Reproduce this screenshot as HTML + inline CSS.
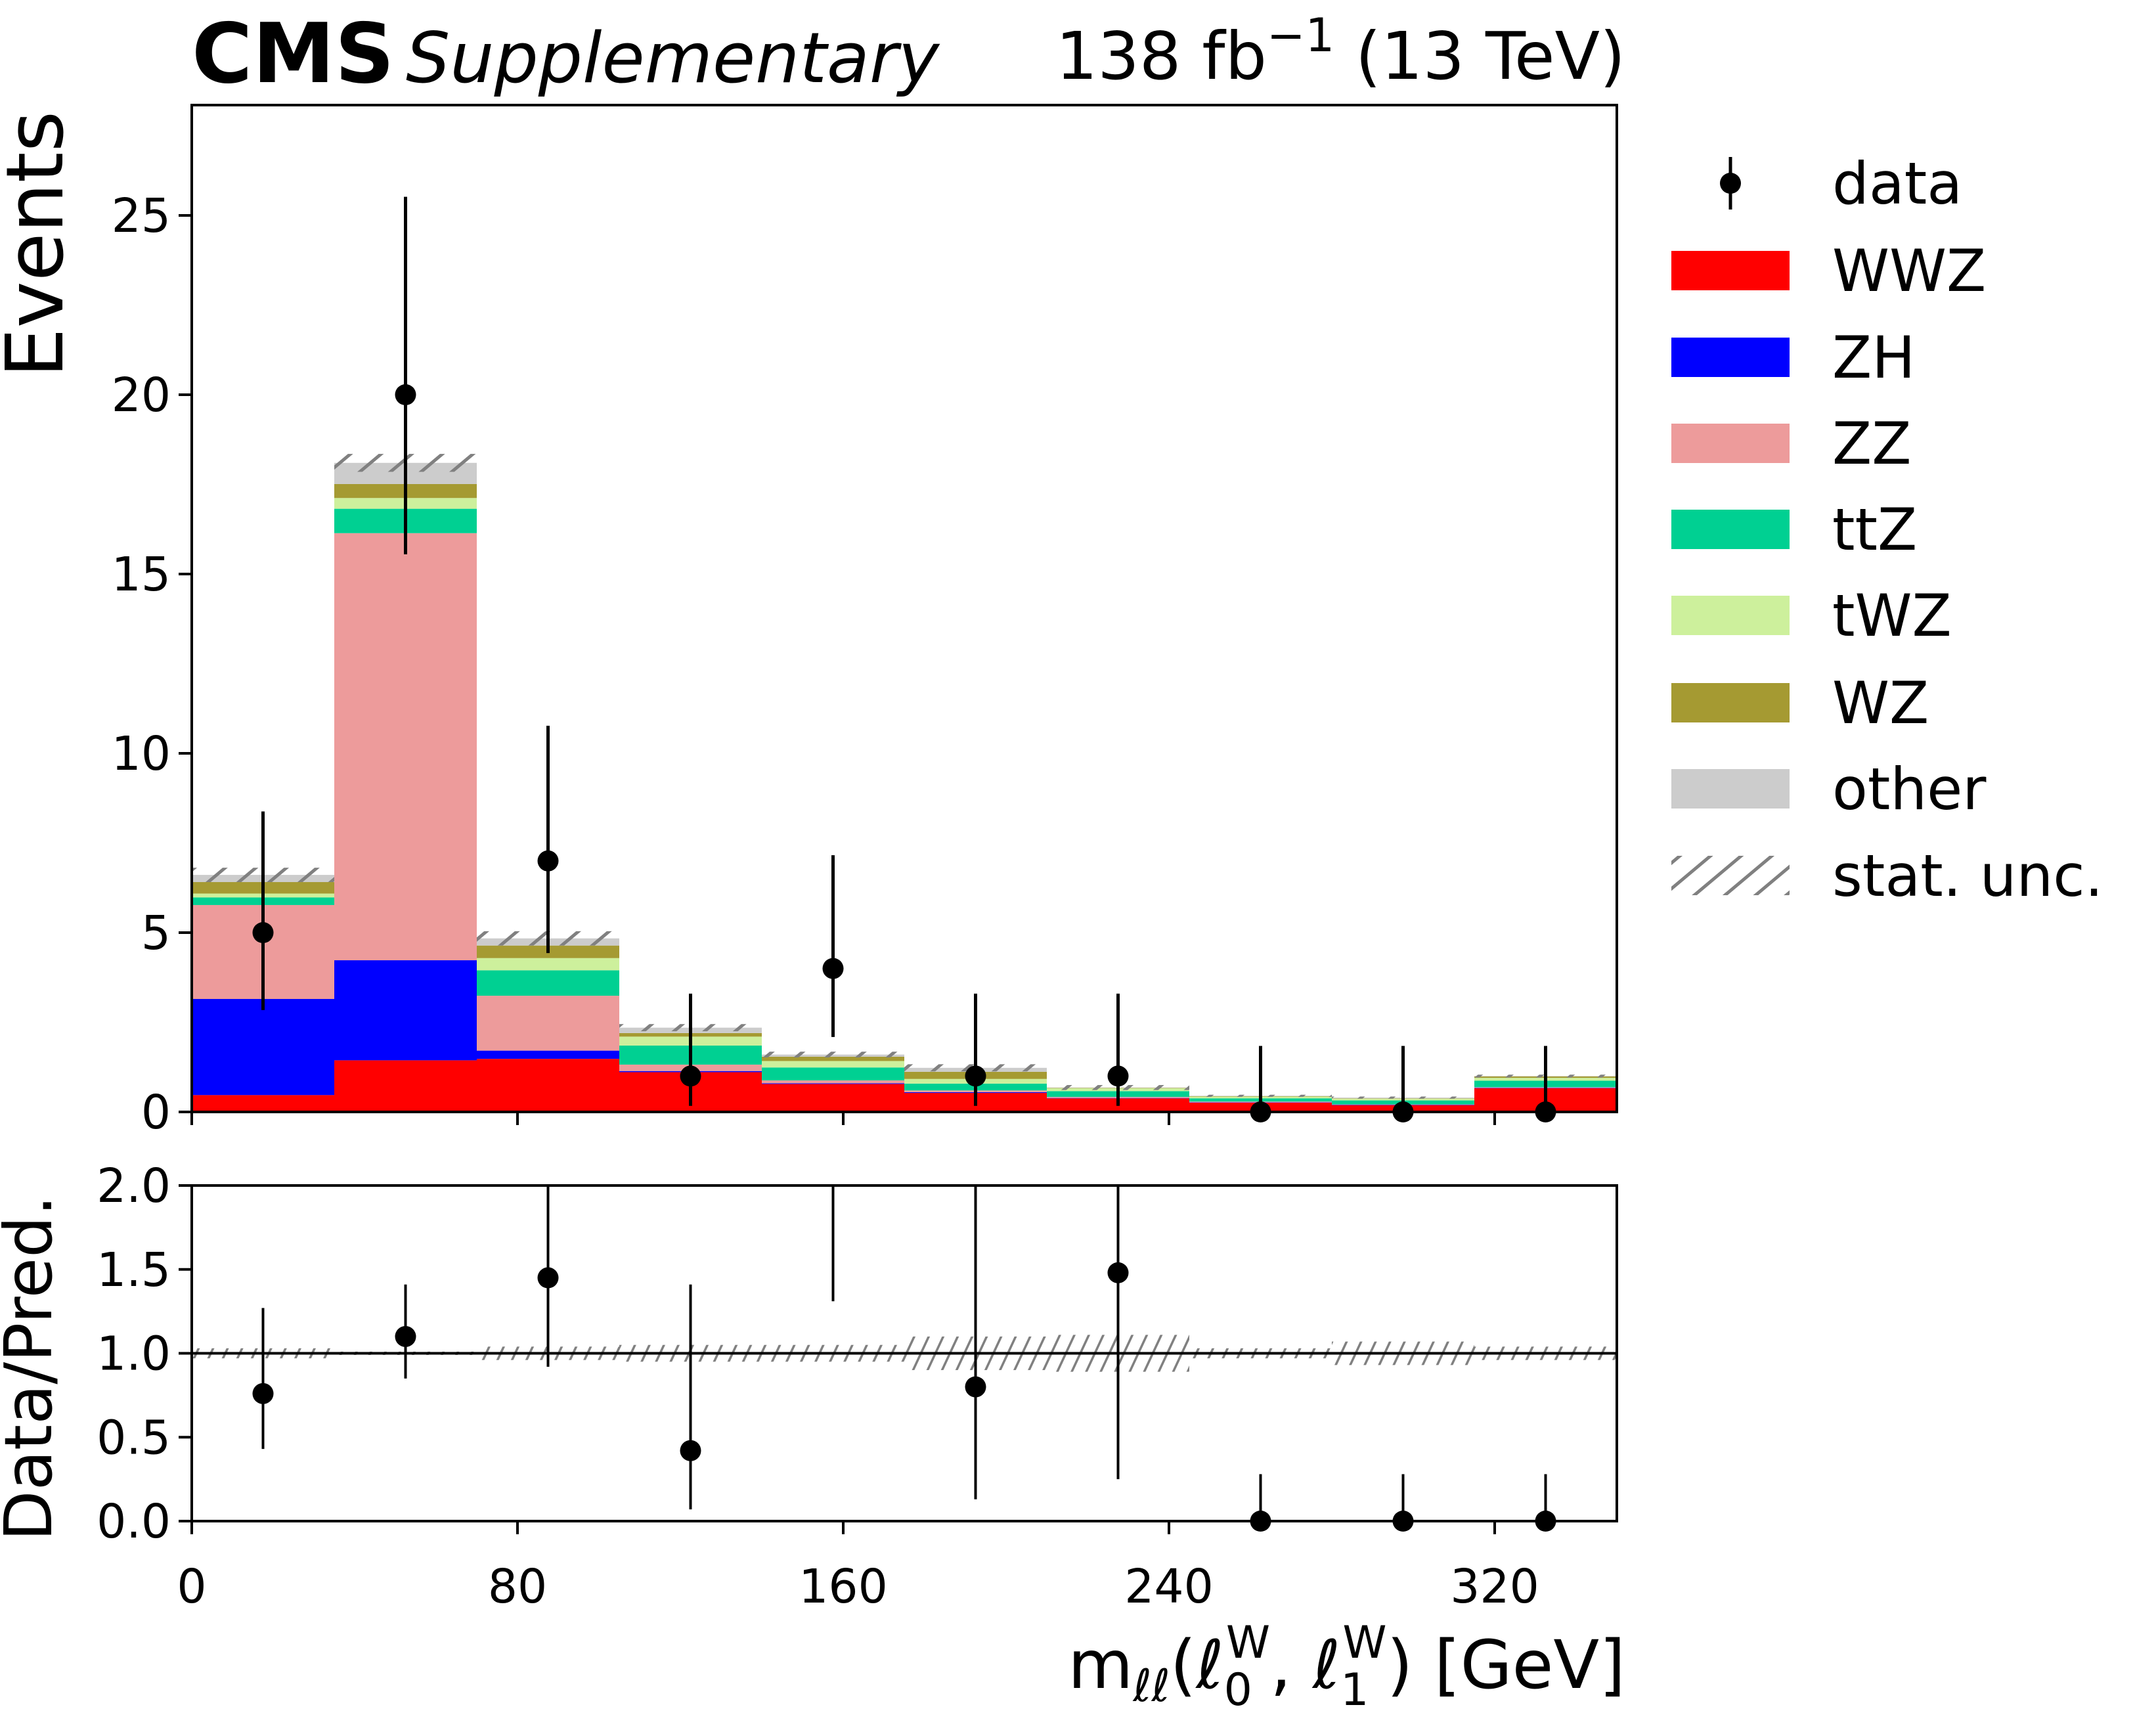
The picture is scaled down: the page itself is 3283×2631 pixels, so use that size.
<!DOCTYPE html>
<html><head><meta charset="utf-8"><style>
html,body{margin:0;padding:0;background:#fff}
svg text{font-family:"DejaVu Sans","Liberation Sans",sans-serif}
</style></head><body>
<svg id="c" width="3283" height="2626" viewBox="0 0 3283 2626" xmlns="http://www.w3.org/2000/svg">
<defs>
<pattern id="h1" width="30" height="30" patternUnits="userSpaceOnUse" patternTransform="rotate(50)"><rect width="30" height="30" fill="none"/><line x1="0" y1="0" x2="0" y2="30" stroke="#808080" stroke-width="10"/></pattern>
<pattern id="h2" width="20" height="20" patternUnits="userSpaceOnUse" patternTransform="rotate(25)"><line x1="0" y1="0" x2="0" y2="20" stroke="#808080" stroke-width="7"/></pattern>
</defs>
<g id="main"></g>
<g id="ratio"></g>
<text x="292" y="125" font-size="126" font-weight="bold">CMS</text>
<text x="618" y="125" font-size="106" font-style="italic">Supplementary</text>
<text x="2475" y="120" font-size="100" text-anchor="end">138 fb<tspan dy="-42" font-size="70">−1</tspan><tspan dy="42"> (13 TeV)</tspan></text>
<text transform="translate(95,372) rotate(-90)" font-size="120" text-anchor="middle">Events</text>
<text transform="translate(78,2083) rotate(-90)" font-size="100" text-anchor="middle">Data/Pred.</text>
<text x="2475" y="2570" font-size="102" text-anchor="end">m<tspan font-size="68" dy="20">ℓℓ</tspan><tspan dy="-20">(ℓ</tspan><tspan font-size="68" dy="26">0</tspan><tspan font-size="68" dx="-40" dy="-72">W</tspan><tspan dy="46">, ℓ</tspan><tspan font-size="68" dy="26">1</tspan><tspan font-size="68" dx="-40" dy="-72">W</tspan><tspan dy="46">) [GeV]</tspan></text>
<g id="legend"></g>
</svg>
<script>
const edges=[0,35,70,105,140,175,210,245,280,315,350];
const procs=["WWZ","ZH","ZZ","ttZ","tWZ","WZ","other"];
const colors=["#ff0000","#0000ff","#ed9b9b","#00d092","#cdf09c","#a59a32","#cccccc"];
const cumWWZ=[0.47,1.44,1.48,1.11,0.78,0.53,0.38,0.26,0.19,0.66];
const cumZH=[3.15,4.23,1.71,1.14,0.80,0.55,0.39,0.27,0.20,0.67];
const cumZZ=[5.77,16.14,3.24,1.32,0.88,0.60,0.42,0.29,0.21,0.69];
const cumttZ=[5.98,16.82,3.95,1.85,1.24,0.79,0.58,0.38,0.32,0.87];
const cumtWZ=[6.09,17.12,4.29,2.10,1.42,0.92,0.66,0.43,0.37,0.95];
const cumWZ=[6.41,17.51,4.64,2.20,1.54,1.12,0.67,0.44,0.38,0.99];
const cumOther=[6.61,18.10,4.84,2.35,1.60,1.23,0.68,0.45,0.40,1.00];
const statUnc=[0.2,0.25,0.2,0.1,0.08,0.1,0.07,0.03,0.03,0.04];
const dataVals=[5,20,7,1,4,1,1,0,0,0];
const dataLo=[2.84,15.55,4.43,0.17,2.09,0.17,0.17,0,0,0];
const dataHi=[8.38,25.52,10.77,3.30,7.16,3.30,3.30,1.84,1.84,1.84];
const ratioVals=[0.76,1.10,1.45,0.42,2.5,0.80,1.48,0,0,0];
const ratioLo=[0.43,0.85,0.92,0.07,1.31,0.13,0.25,0,0,0];
const ratioHi=[1.27,1.41,2.22,1.41,4.5,2.7,4.8,0.28,0.28,0.28];
const ratioUnc=[0.03,0.01,0.04,0.05,0.05,0.1,0.11,0.03,0.07,0.04];
const yTicks=[0,5,10,15,20,25];
const rTicks=[0,0.5,1,1.5,2];
const xTicks=[0,80,160,240,320];

const NS="http://www.w3.org/2000/svg";
const L=292,R=2462;
const X=v=>L+(R-L)*v/350;
const MY0=1693,MTOP=160,Y=v=>MY0-v*54.6;
const RY0=2316,RTOP=1805,RY=v=>RY0-(RY0-RTOP)*v/2;
function mk(p,t,a){const e=document.createElementNS(NS,t);for(const k in a)e.setAttribute(k,a[k]);p.appendChild(e);return e;}
const main=document.getElementById('main'),ratio=document.getElementById('ratio');
const cums=[cumWWZ,cumZH,cumZZ,cumttZ,cumtWZ,cumWZ,cumOther];
for(let i=0;i<10;i++){
  let prev=0;
  for(let p=0;p<7;p++){
    const top=cums[p][i];
    const r=mk(main,'rect',{x:X(edges[i]),y:Y(top),width:X(edges[i+1])-X(edges[i]),height:Math.max(0,Y(prev)-Y(top)),fill:colors[p]});
    
    
    prev=top;
  }
  const h=mk(main,'rect',{x:X(edges[i]),y:Y(cumOther[i]+statUnc[i]),width:X(edges[i+1])-X(edges[i]),height:Y(cumOther[i]-statUnc[i])-Y(cumOther[i]+statUnc[i]),fill:'url(#h1)'});
  
  
  const rh=mk(ratio,'rect',{x:X(edges[i]),y:RY(1+ratioUnc[i]),width:X(edges[i+1])-X(edges[i]),height:RY(1-ratioUnc[i])-RY(1+ratioUnc[i]),fill:'url(#h2)'});
  
  
}
mk(ratio,'line',{x1:L,x2:R,y1:RY(1),y2:RY(1),stroke:'#000','stroke-width':4});
const cp=mk(document.querySelector('defs'),'clipPath',{id:'rc'});mk(cp,'rect',{x:L-30,y:RTOP,width:R-L+60,height:RY0-RTOP+30});
const rpts=mk(ratio,'g',{'clip-path':'url(#rc)'});
for(let i=0;i<10;i++){
  const cx=X((edges[i]+edges[i+1])/2);
  const g=mk(main,'g',{});
  
  
  mk(g,'line',{x1:cx,x2:cx,y1:Y(dataLo[i]),y2:Y(dataHi[i]),stroke:'#000','stroke-width':5});
  mk(g,'circle',{cx:cx,cy:Y(dataVals[i]),r:16,fill:'#000'});
  const rg=mk(rpts,'g',{});
  
  
  mk(rg,'line',{x1:cx,x2:cx,y1:RY(ratioLo[i]),y2:RY(ratioHi[i]),stroke:'#000','stroke-width':4});
  mk(rg,'circle',{cx:cx,cy:RY(ratioVals[i]),r:16,fill:'#000'});
}
mk(main,'rect',{x:L,y:MTOP,width:R-L,height:MY0-MTOP,fill:'none',stroke:'#000','stroke-width':4});
mk(ratio,'rect',{x:L,y:RTOP,width:R-L,height:RY0-RTOP,fill:'none',stroke:'#000','stroke-width':4});
yTicks.forEach(v=>{mk(main,'line',{x1:L-20,x2:L,y1:Y(v),y2:Y(v),stroke:'#000','stroke-width':4});
  const t=mk(main,'text',{x:L-32,y:Y(v)+25,'font-size':71,'text-anchor':'end'});t.textContent=v;
  
  });
rTicks.forEach(v=>{mk(ratio,'line',{x1:L-20,x2:L,y1:RY(v),y2:RY(v),stroke:'#000','stroke-width':4});
  const t=mk(ratio,'text',{x:L-32,y:RY(v)+25,'font-size':71,'text-anchor':'end'});t.textContent=v.toFixed(1);
  
  });
xTicks.forEach(v=>{mk(main,'line',{x1:X(v),x2:X(v),y1:MY0,y2:MY0+20,stroke:'#000','stroke-width':4});
  mk(ratio,'line',{x1:X(v),x2:X(v),y1:RY0,y2:RY0+20,stroke:'#000','stroke-width':4});
  const t=mk(ratio,'text',{x:X(v),y:2440,'font-size':71,'text-anchor':'middle'});t.textContent=v;
  
  });
const lg=document.getElementById('legend');
const rows=[279,412,544,675,806,937,1070,1201,1333];
const labs=["data"].concat(procs).concat(["stat. unc."]);
rows.forEach((y,k)=>{
  const g=mk(lg,'g',{});
  
  
  if(k===0){mk(g,'line',{x1:2635,x2:2635,y1:y-40,y2:y+40,stroke:'#000','stroke-width':5});mk(g,'circle',{cx:2635,cy:y,r:16,fill:'#000'});}
  else if(k===8){mk(g,'rect',{x:2545,y:y-30,width:180,height:60,fill:'url(#h1)'});}
  else mk(g,'rect',{x:2545,y:y-30,width:180,height:60,fill:colors[k-1]});
  const t=mk(g,'text',{x:2790,y:y+31,'font-size':88});t.textContent=labs[k];
});
</script>
</body></html>
